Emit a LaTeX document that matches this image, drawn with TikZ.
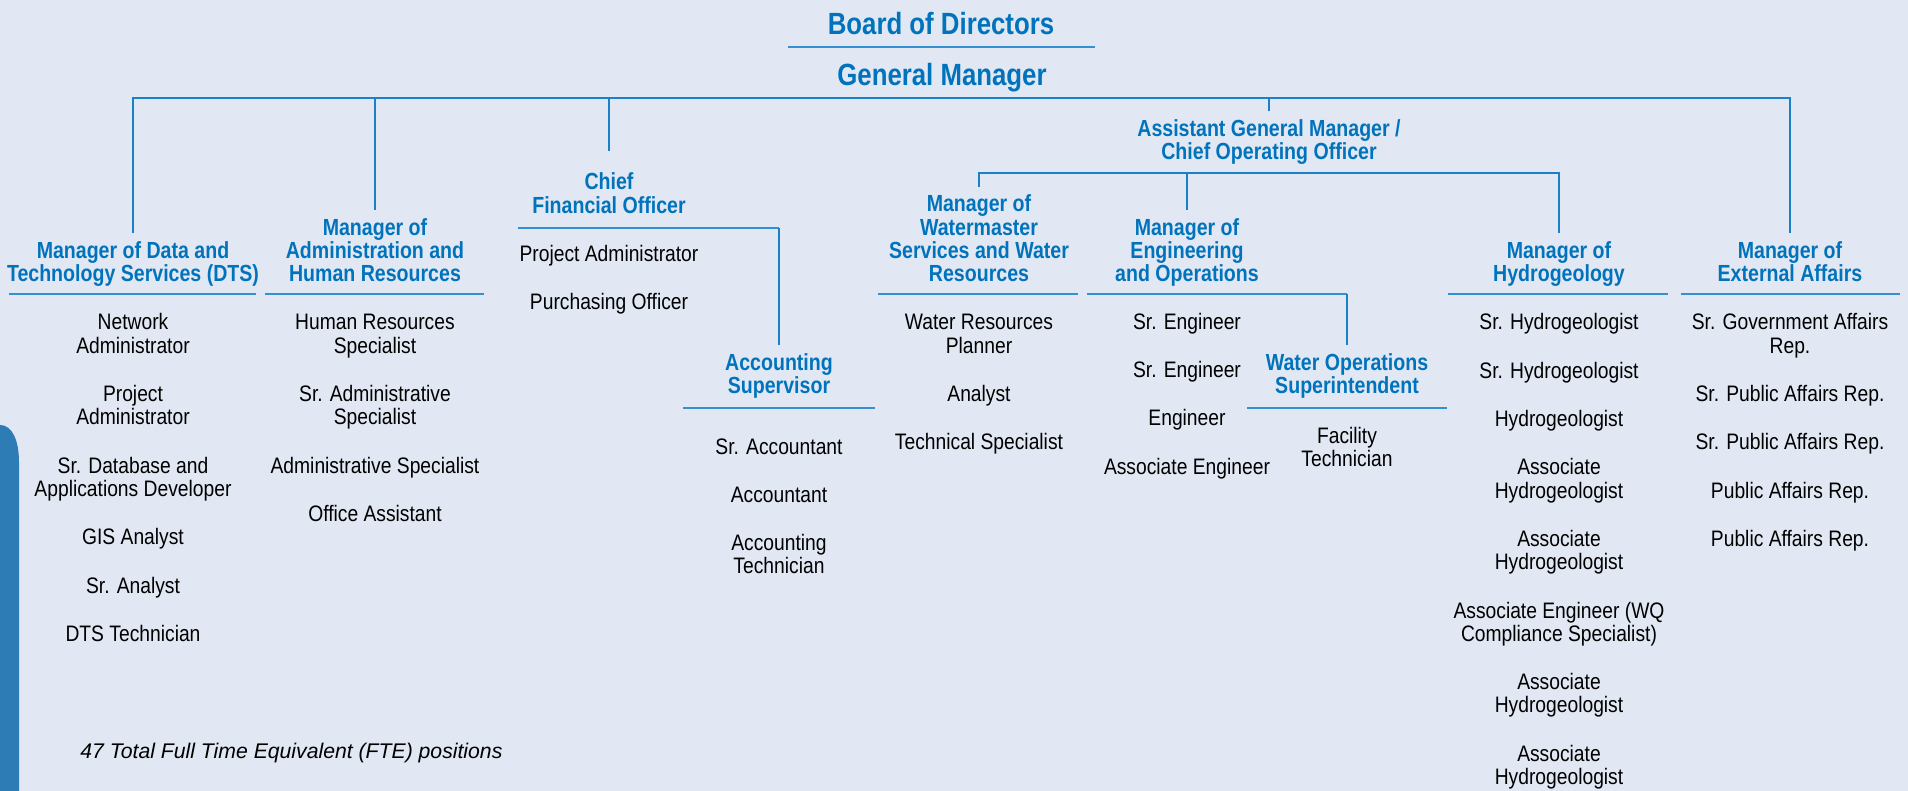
\documentclass[tikz,border=0pt]{standalone}
\usepackage{fontspec}
\newfontfamily\bodyfont{Liberation Sans}[FakeStretch=0.86]
\newfontfamily\headfont{Liberation Sans}[FakeStretch=0.84]
\newfontfamily\notefont{Liberation Sans}
\usetikzlibrary{calc}
\usetikzlibrary{positioning}

\definecolor{bgblue}{RGB}{225,232,243}
\definecolor{barblue}{RGB}{46,124,181}
\definecolor{orgblue}{RGB}{0,115,188}
\definecolor{lineblue}{RGB}{28,128,198}
\definecolor{ruleblue}{RGB}{52,144,210}

\newcommand{\itemgap}{12.5pt}
\newcommand{\topbox}[1]{\parbox[t]{160pt}{\centering #1}}
\newcommand{\botbox}[1]{\parbox[b]{160pt}{\centering #1}}

\begin{document}
\begin{tikzpicture}[x=0.5pt,y=-0.5pt]
        % Define styles for the chart
        \tikzstyle{orgtitle} = [anchor=base, inner sep=0pt, text=orgblue, font=\headfont\bfseries\fontsize{15.35}{16}\selectfont]
        \tikzstyle{orghead} = [anchor=base, inner sep=4pt, text=orgblue, font=\headfont\bfseries\fontsize{11.65}{11.65}\selectfont]
        \tikzstyle{orglist} = [anchor=base, inner sep=0pt, text=black, font=\bodyfont\fontsize{11.2}{11.65}\selectfont]
        \tikzstyle{orglink} = [draw=lineblue, line width=0.9pt]
        \tikzstyle{orgrule} = [draw=ruleblue, line width=1.1pt]

        % Background and side bar
        \useasboundingbox (0,0) rectangle (1908,791);
        \fill[bgblue] (0,0) rectangle (1908,791);
        \fill[barblue] (0,791) -- (0,425) .. controls (12,425) and (19,440) .. (19,462) -- (19,791) -- cycle;

        % Board and general manager
        \node[orgtitle] (bod) at (941,35) {Board of Directors};
        \node[orgtitle] (gm) at (942,86) {General Manager};
        \draw[orgrule] (788,47) -- (1095,47);

        % Draw managers
        \node[orghead] (dts) at (133,281.7) {\botbox{Manager of Data and\\Technology Services (DTS)}};
        \node[orghead] (adm) at (375,281.7) {\botbox{Manager of\\Administration and\\Human Resources}};
        \node[orghead] (cfo) at (609,213.3) {\botbox{Chief\\Financial Officer}};
        \node[orghead] (agm) at (1269,160) {\botbox{Assistant General Manager /\\Chief Operating Officer}};
        \node[orghead] (wms) at (979,281.7) {\botbox{Manager of\\Watermaster\\Services and Water\\Resources}};
        \node[orghead] (eng) at (1187,281.7) {\botbox{Manager of\\Engineering\\and Operations}};
        \node[orghead] (hyd) at (1559,281.7) {\botbox{Manager of\\Hydrogeology}};
        \node[orghead] (ext) at (1790,281.7) {\botbox{Manager of\\External Affairs}};
        \node[orghead] (acct) at (779,393.3) {\botbox{Accounting\\Supervisor}};
        \node[orghead] (wops) at (1347,393.3) {\botbox{Water Operations\\Superintendent}};

        % Underlines
        \draw[orgrule] (9,294) -- (256,294);
        \draw[orgrule] (265,294) -- (484,294);
        \draw[orgrule] (878,294) -- (1078,294);
        \draw[orgrule] (1448,294) -- (1668,294);
        \draw[orgrule] (1681,294) -- (1900,294);
        \draw[orgrule] (683,408) -- (875,408);
        \draw[orgrule] (1247,408) -- (1447,408);
        \coordinate (cfoRule) at (518,228);
        \coordinate (engRule) at (1087,294);
        \draw[orgrule] (cfoRule) -- (cfoRule -| acct.north);
        \draw[orgrule] (engRule) -- (engRule -| wops.north);

        % Draw connectors
        \coordinate (bus) at (0,98);
        \coordinate (subBus) at (0,173.3);
        \draw[orglink] (dts.north) |- (bus -| ext.north) -- (ext.north);
        \draw[orglink] (adm.north) -- (adm.north |- bus);
        \draw[orglink] ([yshift=7pt]cfo.north) -- (cfo.north |- bus);
        \draw[orglink] (agm.north) -- (agm.north |- bus);
        \draw[orglink] (wms.north) |- (subBus -| hyd.north) -- (hyd.north);
        \draw[orglink] (eng.north) -- (eng.north |- subBus);
        \draw[orglink] (cfoRule -| acct.north) -- (acct.north);
        \draw[orglink] (engRule -| wops.north) -- (wops.north);

        % Staff lists
        \node[orglist] (dtsList) at (133,330) {\topbox{Network\\Administrator\\[\itemgap]Project\\Administrator\\[\itemgap]Sr. Database and\\Applications Developer\\[\itemgap]GIS Analyst\\[\itemgap]Sr. Analyst\\[\itemgap]DTS Technician}};
        \node[orglist] (admList) at (375,330) {\topbox{Human Resources\\Specialist\\[\itemgap]Sr. Administrative\\Specialist\\[\itemgap]Administrative Specialist\\[\itemgap]Office Assistant}};
        \node[orglist] (cfoList) at (609,261.7) {\topbox{Project Administrator\\[\itemgap]Purchasing Officer}};
        \node[orglist] (acctList) at (779,454) {\topbox{Sr. Accountant\\[\itemgap]Accountant\\[\itemgap]Accounting\\Technician}};
        \node[orglist] (wmsList) at (979,330) {\topbox{Water Resources\\Planner\\[\itemgap]Analyst\\[\itemgap]Technical Specialist}};
        \node[orglist] (engList) at (1187,329.3) {\topbox{Sr. Engineer\\[\itemgap]Sr. Engineer\\[\itemgap]Engineer\\[\itemgap]Associate Engineer}};
        \node[orglist] (wopsList) at (1347,443.3) {\topbox{Facility\\Technician}};
        \node[orglist] (hydList) at (1559,330) {\topbox{Sr. Hydrogeologist\\[\itemgap]Sr. Hydrogeologist\\[\itemgap]Hydrogeologist\\[\itemgap]Associate\\Hydrogeologist\\[\itemgap]Associate\\Hydrogeologist\\[\itemgap]Associate Engineer (WQ\\Compliance Specialist)\\[\itemgap]Associate\\Hydrogeologist\\[\itemgap]Associate\\Hydrogeologist}};
        \node[orglist] (extList) at (1790,330) {\topbox{Sr. Government Affairs\\Rep.\\[\itemgap]Sr. Public Affairs Rep.\\[\itemgap]Sr. Public Affairs Rep.\\[\itemgap]Public Affairs Rep.\\[\itemgap]Public Affairs Rep.}};

        % Footnote
        \node[anchor=base west, inner sep=0pt, font=\notefont\itshape\fontsize{10.6}{12}\selectfont] (fte) at (80,758) {47 Total Full Time Equivalent (FTE) positions};
\end{tikzpicture}
\end{document}
